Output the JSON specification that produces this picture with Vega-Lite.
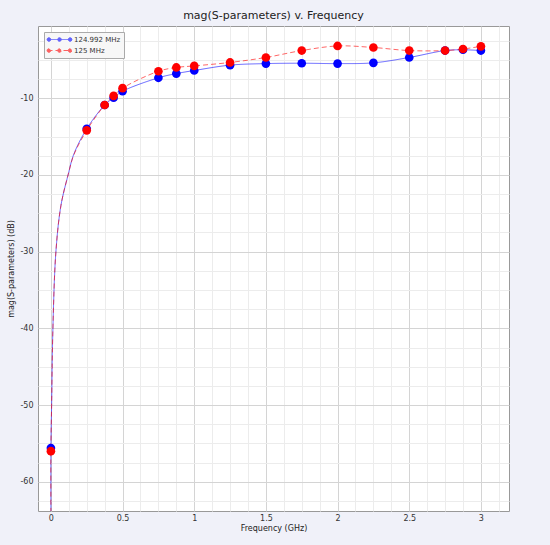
{
  "$schema": "https://vega.github.io/schema/vega-lite/v6.json",
  "width": 471,
  "height": 485,
  "autosize": "none",
  "padding": {"left": 38, "top": 26, "right": 41, "bottom": 34},
  "background": "#f0f1f9",
  "title": {
    "text": "mag(S-parameters) v. Frequency",
    "font": "DejaVu Sans",
    "fontSize": 11,
    "fontWeight": "normal",
    "color": "#222222",
    "offset": 5
  },
  "config": {
    "view": {"stroke": "#999999", "fill": "white"},
    "axis": {
      "labelFont": "DejaVu Sans",
      "labelFontSize": 8,
      "labelColor": "#333333",
      "titleFont": "DejaVu Sans",
      "titleFontSize": 8,
      "titleFontWeight": "normal",
      "titleColor": "#222222",
      "ticks": false,
      "domain": false
    },
    "legend": {
      "labelFont": "DejaVu Sans",
      "labelFontSize": 7,
      "labelColor": "#333333"
    }
  },
  "datasets": {
    "markers": [
      {"freq": 0, "db": -55.6, "series": "124.992 MHz"},
      {"freq": 0.25, "db": -14.0, "series": "124.992 MHz"},
      {"freq": 0.375, "db": -10.9, "series": "124.992 MHz"},
      {"freq": 0.4375, "db": -9.95, "series": "124.992 MHz"},
      {"freq": 0.5, "db": -9.1, "series": "124.992 MHz"},
      {"freq": 0.75, "db": -7.35, "series": "124.992 MHz"},
      {"freq": 0.875, "db": -6.8, "series": "124.992 MHz"},
      {"freq": 1.0, "db": -6.4, "series": "124.992 MHz"},
      {"freq": 1.25, "db": -5.7, "series": "124.992 MHz"},
      {"freq": 1.5, "db": -5.5, "series": "124.992 MHz"},
      {"freq": 1.75, "db": -5.45, "series": "124.992 MHz"},
      {"freq": 2.0, "db": -5.5, "series": "124.992 MHz"},
      {"freq": 2.25, "db": -5.4, "series": "124.992 MHz"},
      {"freq": 2.5, "db": -4.7, "series": "124.992 MHz"},
      {"freq": 2.75, "db": -3.8, "series": "124.992 MHz"},
      {"freq": 2.875, "db": -3.7, "series": "124.992 MHz"},
      {"freq": 3.0, "db": -3.8, "series": "124.992 MHz"},
      {"freq": 0, "db": -56.0, "series": "125 MHz"},
      {"freq": 0.25, "db": -14.2, "series": "125 MHz"},
      {"freq": 0.375, "db": -10.9, "series": "125 MHz"},
      {"freq": 0.4375, "db": -9.7, "series": "125 MHz"},
      {"freq": 0.5, "db": -8.7, "series": "125 MHz"},
      {"freq": 0.75, "db": -6.5, "series": "125 MHz"},
      {"freq": 0.875, "db": -6.0, "series": "125 MHz"},
      {"freq": 1.0, "db": -5.8, "series": "125 MHz"},
      {"freq": 1.25, "db": -5.35, "series": "125 MHz"},
      {"freq": 1.5, "db": -4.7, "series": "125 MHz"},
      {"freq": 1.75, "db": -3.8, "series": "125 MHz"},
      {"freq": 2.0, "db": -3.2, "series": "125 MHz"},
      {"freq": 2.25, "db": -3.4, "series": "125 MHz"},
      {"freq": 2.5, "db": -3.8, "series": "125 MHz"},
      {"freq": 2.75, "db": -3.8, "series": "125 MHz"},
      {"freq": 2.875, "db": -3.6, "series": "125 MHz"},
      {"freq": 3.0, "db": -3.25, "series": "125 MHz"}
    ],
    "curve": [
      {"freq": 0, "db": -64, "series": "124.992 MHz"},
      {"freq": 0, "db": -55.6, "series": "124.992 MHz"},
      {"freq": 0.005, "db": -50, "series": "124.992 MHz"},
      {"freq": 0.014, "db": -40, "series": "124.992 MHz"},
      {"freq": 0.035, "db": -30, "series": "124.992 MHz"},
      {"freq": 0.07, "db": -24, "series": "124.992 MHz"},
      {"freq": 0.12, "db": -20, "series": "124.992 MHz"},
      {"freq": 0.16, "db": -17.3, "series": "124.992 MHz"},
      {"freq": 0.25, "db": -14.0, "series": "124.992 MHz"},
      {"freq": 0.375, "db": -10.9, "series": "124.992 MHz"},
      {"freq": 0.4375, "db": -9.95, "series": "124.992 MHz"},
      {"freq": 0.5, "db": -9.1, "series": "124.992 MHz"},
      {"freq": 0.75, "db": -7.35, "series": "124.992 MHz"},
      {"freq": 0.875, "db": -6.8, "series": "124.992 MHz"},
      {"freq": 1.0, "db": -6.4, "series": "124.992 MHz"},
      {"freq": 1.25, "db": -5.7, "series": "124.992 MHz"},
      {"freq": 1.5, "db": -5.5, "series": "124.992 MHz"},
      {"freq": 1.75, "db": -5.45, "series": "124.992 MHz"},
      {"freq": 2.0, "db": -5.5, "series": "124.992 MHz"},
      {"freq": 2.25, "db": -5.4, "series": "124.992 MHz"},
      {"freq": 2.5, "db": -4.7, "series": "124.992 MHz"},
      {"freq": 2.75, "db": -3.8, "series": "124.992 MHz"},
      {"freq": 2.875, "db": -3.7, "series": "124.992 MHz"},
      {"freq": 3.0, "db": -3.8, "series": "124.992 MHz"},
      {"freq": 0, "db": -64, "series": "125 MHz"},
      {"freq": 0, "db": -56.0, "series": "125 MHz"},
      {"freq": 0.005, "db": -50, "series": "125 MHz"},
      {"freq": 0.014, "db": -40, "series": "125 MHz"},
      {"freq": 0.035, "db": -30, "series": "125 MHz"},
      {"freq": 0.07, "db": -24, "series": "125 MHz"},
      {"freq": 0.12, "db": -20, "series": "125 MHz"},
      {"freq": 0.16, "db": -17.4, "series": "125 MHz"},
      {"freq": 0.25, "db": -14.2, "series": "125 MHz"},
      {"freq": 0.375, "db": -10.9, "series": "125 MHz"},
      {"freq": 0.4375, "db": -9.7, "series": "125 MHz"},
      {"freq": 0.5, "db": -8.7, "series": "125 MHz"},
      {"freq": 0.75, "db": -6.5, "series": "125 MHz"},
      {"freq": 0.875, "db": -6.0, "series": "125 MHz"},
      {"freq": 1.0, "db": -5.8, "series": "125 MHz"},
      {"freq": 1.25, "db": -5.35, "series": "125 MHz"},
      {"freq": 1.5, "db": -4.7, "series": "125 MHz"},
      {"freq": 1.75, "db": -3.8, "series": "125 MHz"},
      {"freq": 2.0, "db": -3.2, "series": "125 MHz"},
      {"freq": 2.25, "db": -3.4, "series": "125 MHz"},
      {"freq": 2.5, "db": -3.8, "series": "125 MHz"},
      {"freq": 2.75, "db": -3.8, "series": "125 MHz"},
      {"freq": 2.875, "db": -3.6, "series": "125 MHz"},
      {"freq": 3.0, "db": -3.25, "series": "125 MHz"}
    ]
  },
  "encoding": {
    "x": {
      "field": "freq",
      "type": "quantitative",
      "title": "Frequency (GHz)",
      "scale": {"domain": [-0.09, 3.196], "nice": false, "zero": false},
      "axis": {
        "values": [0, 0.125, 0.25, 0.375, 0.5, 0.625, 0.75, 0.875, 1, 1.125, 1.25, 1.375, 1.5, 1.625, 1.75, 1.875, 2, 2.125, 2.25, 2.375, 2.5, 2.625, 2.75, 2.875, 3, 3.125],
        "labelExpr": "datum.value % 0.5 == 0 ? toString(datum.value) : ''",
        "labelPadding": 3,
        "titlePadding": 2,
        "gridColor": {"condition": {"test": "datum.value % 0.5 == 0", "value": "#d4d4d4"}, "value": "#ececec"}
      }
    },
    "y": {
      "field": "db",
      "type": "quantitative",
      "title": "mag(S-parameters) (dB)",
      "scale": {"domain": [-63.8, -0.6], "nice": false, "zero": false},
      "axis": {
        "values": [-62.5, -60, -57.5, -55, -52.5, -50, -47.5, -45, -42.5, -40, -37.5, -35, -32.5, -30, -27.5, -25, -22.5, -20, -17.5, -15, -12.5, -10, -7.5, -5, -2.5],
        "labelExpr": "datum.value % 10 == 0 ? toString(datum.value) : ''",
        "labelPadding": 5,
        "titlePadding": 4,
        "gridColor": {"condition": {"test": "datum.value % 10 == 0", "value": "#d4d4d4"}, "value": "#ececec"}
      }
    },
    "color": {
      "field": "series",
      "type": "nominal",
      "scale": {"domain": ["124.992 MHz", "125 MHz"], "range": ["#0000ff", "#ff0000"]},
      "legend": {
        "title": null,
        "orient": "top-left",
        "offset": 6,
        "padding": 3,
        "rowPadding": 2,
        "fillColor": "#f7f7f7",
        "strokeColor": "#aaaaaa",
        "symbolType": "M-3,0H3M-3.1,0a0.45,0.45 0 1,0 0.9,0a0.45,0.45 0 1,0 -0.9,0M-0.45,0a0.45,0.45 0 1,0 0.9,0a0.45,0.45 0 1,0 -0.9,0M2.2,0a0.45,0.45 0 1,0 0.9,0a0.45,0.45 0 1,0 -0.9,0",
        "symbolSize": 64,
        "symbolStrokeWidth": 1,
        "symbolOffset": 8,
        "labelOffset": 10,
        "encode": {
          "symbols": {
            "update": {
              "fill": {"scale": "color", "field": "value"},
              "stroke": {"scale": "color", "field": "value"},
              "opacity": {"value": 1},
              "fillOpacity": {"value": 1},
              "strokeOpacity": {"value": 1}
            }
          }
        }
      }
    }
  },
  "layer": [
    {
      "data": {"name": "curve"},
      "mark": {"type": "line", "interpolate": "catmull-rom", "strokeWidth": 1, "opacity": 0.6, "clip": true},
      "encoding": {
        "strokeDash": {
          "field": "series",
          "type": "nominal",
          "scale": {"domain": ["124.992 MHz", "125 MHz"], "range": [[1, 0], [5, 3]]},
          "legend": null
        }
      }
    },
    {
      "data": {"name": "markers"},
      "mark": {"type": "point", "filled": true, "size": 75, "opacity": 1, "clip": true}
    }
  ]
}
